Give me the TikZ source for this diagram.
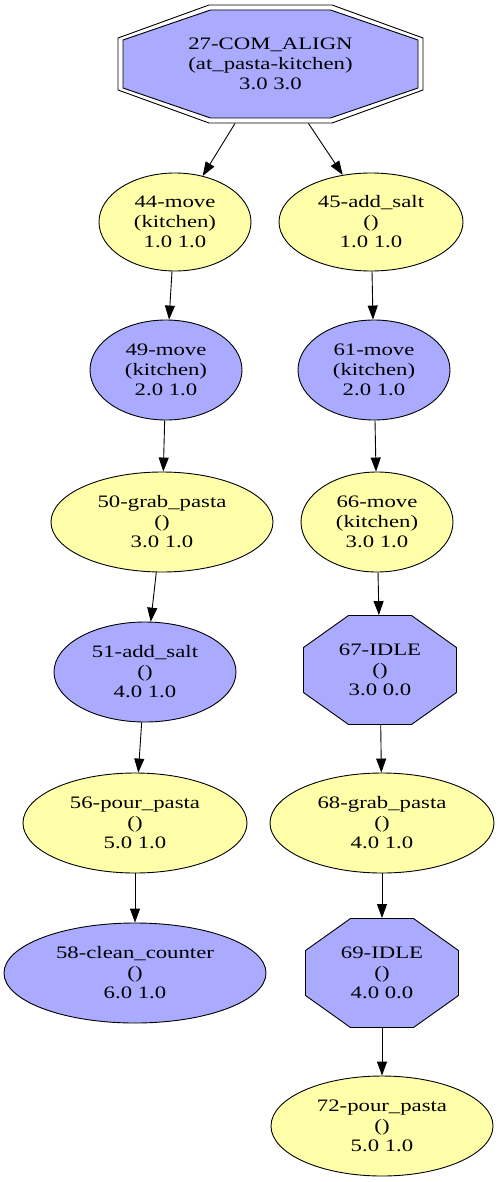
\documentclass[tikz,border=0pt]{standalone}
\usepackage{fontspec}
\setmainfont{Liberation Serif}
\newfontfamily\gvfont[FakeStretch=1.3]{Liberation Serif}
\usetikzlibrary{shapes.geometric,arrows.meta,calc}
\definecolor{gvblue}{RGB}{170,170,255}
\definecolor{gvyellow}{RGB}{255,255,170}
% args: cx cy halfwidth halfheight tophalf sidehalf style
\newcommand\gvoct[7]{\path[#7,shift={(#1,#2)}] (-#5,-#4) -- (#5,-#4) -- (#3,-#6) -- (#3,#6) -- (#5,#4) -- (-#5,#4) -- (-#3,#6) -- (-#3,-#6) -- cycle;}
\begin{document}
\begin{tikzpicture}[x=1pt,y=-1pt,line width=0.9pt,
  lbl/.style={font=\gvfont\fontsize{17.5}{20}\selectfont,align=center},
  ell/.style={lbl,ellipse,draw,inner sep=0pt},
  blu/.style={fill=gvblue},
  yel/.style={fill=gvyellow},
  box/.style={lbl,rectangle,inner sep=0pt},
  edge/.style={-{Triangle[length=14pt,width=10pt]}}]
\useasboundingbox (0,0) rectangle (499,1182);

% top double octagon
\gvoct{270.5}{64}{152.5}{59}{61.5}{26}{draw,fill=white}
\gvoct{270.5}{64}{147.5}{54}{60}{24}{draw,fill=gvblue}
\node[box,minimum width=305pt,minimum height=118pt] (n27) at (270.5,64) {27-COM\_ALIGN\\(at\_pasta-kitchen)\\3.0 3.0};

% IDLE octagons
\gvoct{380}{670}{76.5}{54.5}{31.5}{22.5}{draw,fill=gvblue}
\node[box,minimum width=153pt,minimum height=109pt] (n67) at (380,670) {67-IDLE\\()\\3.0 0.0};
\gvoct{382}{973}{76.5}{54.5}{31.5}{22.5}{draw,fill=gvblue}
\node[box,minimum width=153pt,minimum height=109pt] (n69) at (382,973) {69-IDLE\\()\\4.0 0.0};

% ellipses
\node[ell,yel,minimum width=152pt,minimum height=98pt] (n44) at (175,222) {44-move\\(kitchen)\\1.0 1.0};
\node[ell,yel,minimum width=184pt,minimum height=98pt] (n45) at (371,222) {45-add\_salt\\()\\1.0 1.0};
\node[ell,blu,minimum width=152pt,minimum height=100pt] (n49) at (166,370) {49-move\\(kitchen)\\2.0 1.0};
\node[ell,blu,minimum width=152pt,minimum height=100pt] (n61) at (374,370) {61-move\\(kitchen)\\2.0 1.0};
\node[ell,yel,minimum width=222pt,minimum height=100pt] (n50) at (162,522) {50-grab\_pasta\\()\\3.0 1.0};
\node[ell,yel,minimum width=152pt,minimum height=100pt] (n66) at (377,522) {66-move\\(kitchen)\\3.0 1.0};
\node[ell,blu,minimum width=182pt,minimum height=100pt] (n51) at (145,672) {51-add\_salt\\()\\4.0 1.0};
\node[ell,yel,minimum width=224pt,minimum height=100pt] (n56) at (135,823) {56-pour\_pasta\\()\\5.0 1.0};
\node[ell,yel,minimum width=224pt,minimum height=100pt] (n68) at (382,823) {68-grab\_pasta\\()\\4.0 1.0};
\node[ell,blu,minimum width=262pt,minimum height=100pt] (n58) at (135,973) {58-clean\_counter\\()\\6.0 1.0};
\node[ell,yel,minimum width=222pt,minimum height=100pt] (n72) at (382,1126) {72-pour\_pasta\\()\\5.0 1.0};

% edges
\draw[edge] ($(n27.south)+(-35.5,0)$) -- (n44.59);
\draw[edge] ($(n27.south)+(38,0)$) -- (n45.121);
\draw[edge] (n44) -- (n49);
\draw[edge] (n45) -- (n61);
\draw[edge] (n49) -- (n50);
\draw[edge] (n61) -- (n66);
\draw[edge] (n50) -- (n51);
\draw[edge] (n66) -- (n67);
\draw[edge] (n51) -- (n56);
\draw[edge] (n67) -- (n68);
\draw[edge] (n56) -- (n58);
\draw[edge] (n68) -- (n69);
\draw[edge] (n69) -- (n72);
\end{tikzpicture}
\end{document}
